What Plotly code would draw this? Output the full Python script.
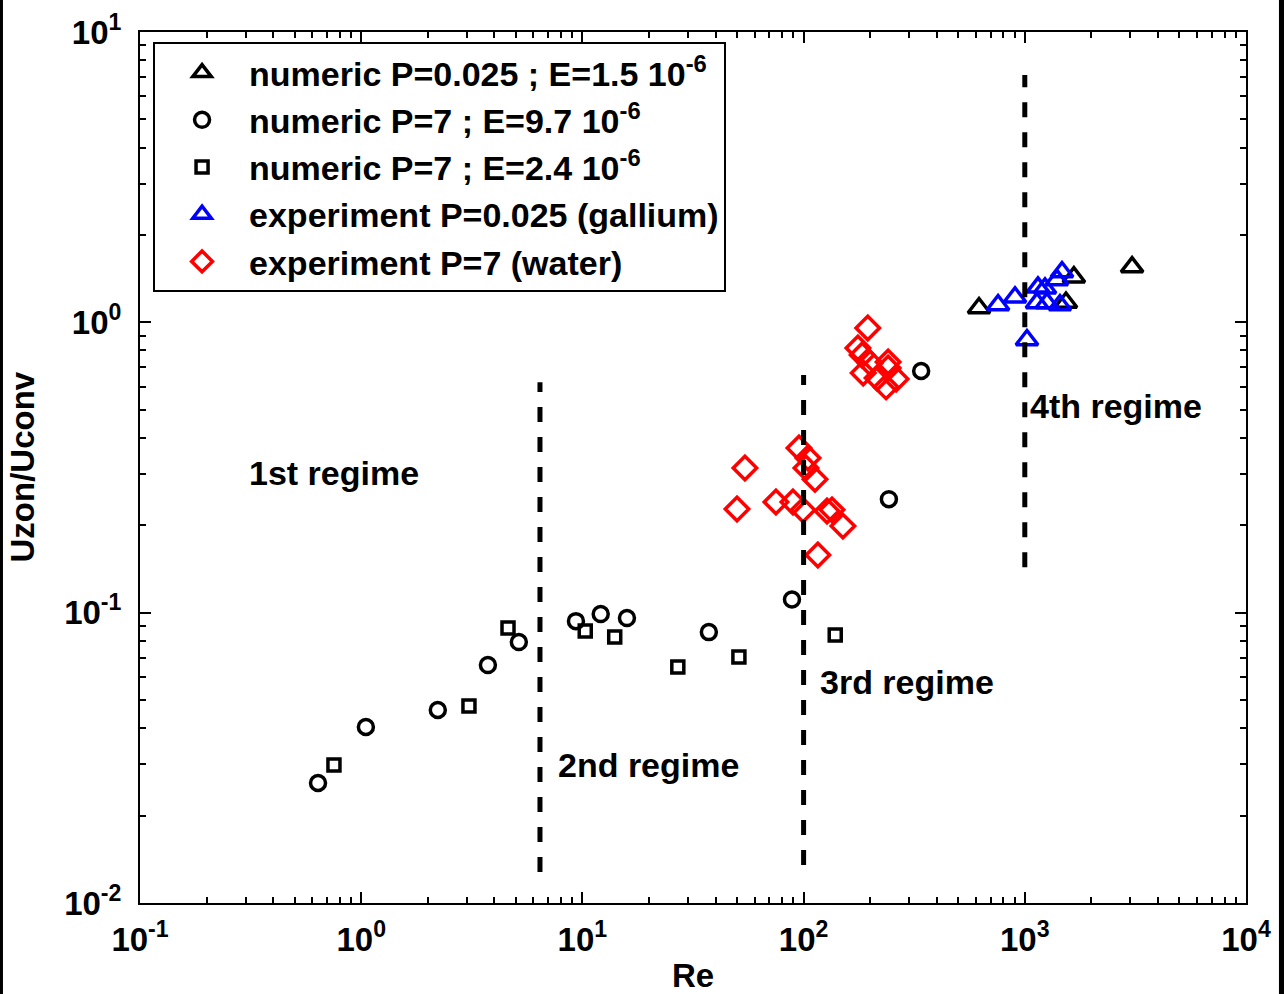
import math
import plotly.graph_objects as go

# ---- data ----
num_p0025_re = [621, 1535, 1667, 3055]
num_p0025_u = [1.12, 1.17, 1.43, 1.55]

num_p7a_re = [0.638, 1.05, 2.22, 3.74, 5.16, 9.35, 12.1, 15.9, 37.3, 88.6, 243, 340]
num_p7a_u = [0.0259, 0.0404, 0.0462, 0.066, 0.0792, 0.0935, 0.0989, 0.0958, 0.0857, 0.111, 0.246, 0.680]

num_p7b_re = [0.753, 3.07, 4.61, 10.3, 14.0, 27.0, 51.0, 139]
num_p7b_u = [0.0299, 0.0477, 0.0885, 0.0865, 0.0824, 0.065, 0.0703, 0.0837]

exp_ga_re = [757, 903, 1023, 1135, 1147, 1234, 1259, 1398, 1442, 1473]
exp_ga_u = [1.147, 1.22, 0.869, 1.166, 1.32, 1.31, 1.166, 1.40, 1.147, 1.49]

exp_w_re = [195, 176, 184, 200, 186, 215, 241, 241, 236, 262,
            54.3, 50.0, 75.0, 89.5, 99.4, 95.3, 104.7, 102.5, 112.6, 127.6, 134.4, 150.6, 116]
exp_w_u = [0.956, 0.816, 0.772, 0.724, 0.669, 0.643, 0.730, 0.696, 0.599, 0.638,
           0.315, 0.2275, 0.2405, 0.2405, 0.2256, 0.369, 0.341, 0.315, 0.288, 0.224, 0.226, 0.1987, 0.158]

regime_lines_re = [6.43, 100, 1000]
regime_lines_u = [(0.01278, 0.622), (0.01352, 0.658), (0.1435, 7.11)]

regime_labels = ["1st regime", "2nd regime", "3rd regime", "4th regime"]
regime_label_re = [0.305, 7.6, 116, 1034]
regime_label_u = [0.303, 0.0299, 0.0577, 0.515]

x_tickvals = [0.1, 1, 10, 100, 1000, 10000]
x_ticktext = ["10<sup>-1</sup>", "10<sup>0</sup>", "10<sup>1</sup>", "10<sup>2</sup>", "10<sup>3</sup>", "10<sup>4</sup>"]
y_tickvals = [0.01, 0.1, 1, 10]
y_ticktext = ["10<sup>-2</sup>", "10<sup>-1</sup>", "10<sup>0</sup>", "10<sup>1</sup>"]

x_title = "Re"
y_title = "Uzon/Uconv"

FONT = "Liberation Sans"

fig = go.Figure()

fig.add_trace(go.Scatter(
    x=num_p0025_re, y=num_p0025_u, mode="markers",
    name="numeric P=0.025 ; E=1.5 10<sup>-6</sup>",
    marker=dict(symbol="triangle-up-open", size=19, color="black", line=dict(width=3.5, color="black"))))
fig.add_trace(go.Scatter(
    x=num_p7a_re, y=num_p7a_u, mode="markers",
    name="numeric P=7 ; E=9.7 10<sup>-6</sup>",
    marker=dict(symbol="circle-open", size=15, color="black", line=dict(width=3.5, color="black"))))
fig.add_trace(go.Scatter(
    x=num_p7b_re, y=num_p7b_u, mode="markers",
    name="numeric P=7 ; E=2.4 10<sup>-6</sup>",
    marker=dict(symbol="square-open", size=12, color="black", line=dict(width=3.5, color="black"))))
fig.add_trace(go.Scatter(
    x=exp_ga_re, y=exp_ga_u, mode="markers",
    name="experiment P=0.025 (gallium)",
    marker=dict(symbol="triangle-up-open", size=19, color="blue", line=dict(width=3.5, color="blue"))))
fig.add_trace(go.Scatter(
    x=exp_w_re, y=exp_w_u, mode="markers",
    name="experiment P=7 (water)",
    marker=dict(symbol="diamond-open", size=18, color="red", line=dict(width=3.5, color="red"))))

for xv, (y0, y1) in zip(regime_lines_re, regime_lines_u):
    fig.add_trace(go.Scatter(
        x=[xv, xv], y=[y0, y1], mode="lines", showlegend=False, hoverinfo="skip",
        line=dict(color="black", width=5, dash="15px,15px")))

for txt, xv, yv in zip(regime_labels, regime_label_re, regime_label_u):
    fig.add_annotation(x=math.log10(xv), y=math.log10(yv), xref="x", yref="y",
                       text=txt, showarrow=False, xanchor="left", yanchor="middle",
                       font=dict(family=FONT, size=34, color="black", weight="bold"))

# y-axis title placed as rotated text so it can sit close to the figure edge
fig.add_annotation(x=0, y=0.5, xref="paper", yref="paper", text=y_title, textangle=-90,
                   showarrow=False, xanchor="center", yanchor="middle", xshift=-118,
                   font=dict(family=FONT, size=33, color="black", weight="bold"))

minor_x = [m * 10 ** e for e in range(-1, 4) for m in range(2, 10)]
minor_y = [m * 10 ** e for e in range(-2, 1) for m in range(2, 10)]

axis_common = dict(
    type="log", showgrid=False, zeroline=False, automargin=False,
    showline=True, linecolor="black", linewidth=2, mirror="allticks",
    ticks="inside", ticklen=11, tickwidth=1.5, tickcolor="black",
    tickfont=dict(family=FONT, size=33, color="black", weight="bold"),
)

fig.update_xaxes(**axis_common, range=[-1, 4], tickvals=x_tickvals, ticktext=x_ticktext,
                 ticklabelstandoff=6,
                 minor=dict(tickvals=minor_x, ticks="inside", ticklen=6, tickwidth=1.5, tickcolor="black"),
                 title=dict(text=x_title, font=dict(family=FONT, size=33, color="black", weight="bold"), standoff=10))
fig.update_yaxes(**axis_common, range=[-2, 1], tickvals=y_tickvals, ticktext=y_ticktext,
                 ticklabelstandoff=10,
                 minor=dict(tickvals=minor_y, ticks="inside", ticklen=6, tickwidth=1.5, tickcolor="black"))

fig.update_layout(
    width=1284, height=994,
    margin=dict(l=140, r=38, t=32, b=91, autoexpand=False),
    paper_bgcolor="white", plot_bgcolor="white",
    showlegend=True,
    legend=dict(x=0.0118, y=0.9885, xanchor="left", yanchor="top",
                bgcolor="white", bordercolor="black", borderwidth=2,
                font=dict(family=FONT, size=34, color="black", weight="bold"),
                itemwidth=84, tracegroupgap=0),
    shapes=[
        dict(type="rect", xref="paper", yref="paper", x0=-0.1266, x1=-0.1239, y0=-0.11, y1=1.04,
             fillcolor="black", line=dict(width=0)),
        dict(type="rect", xref="paper", yref="paper", x0=1.0298, x1=1.0344, y0=-0.11, y1=1.04,
             fillcolor="black", line=dict(width=0)),
    ],
)

fig.write_html("out.html")
